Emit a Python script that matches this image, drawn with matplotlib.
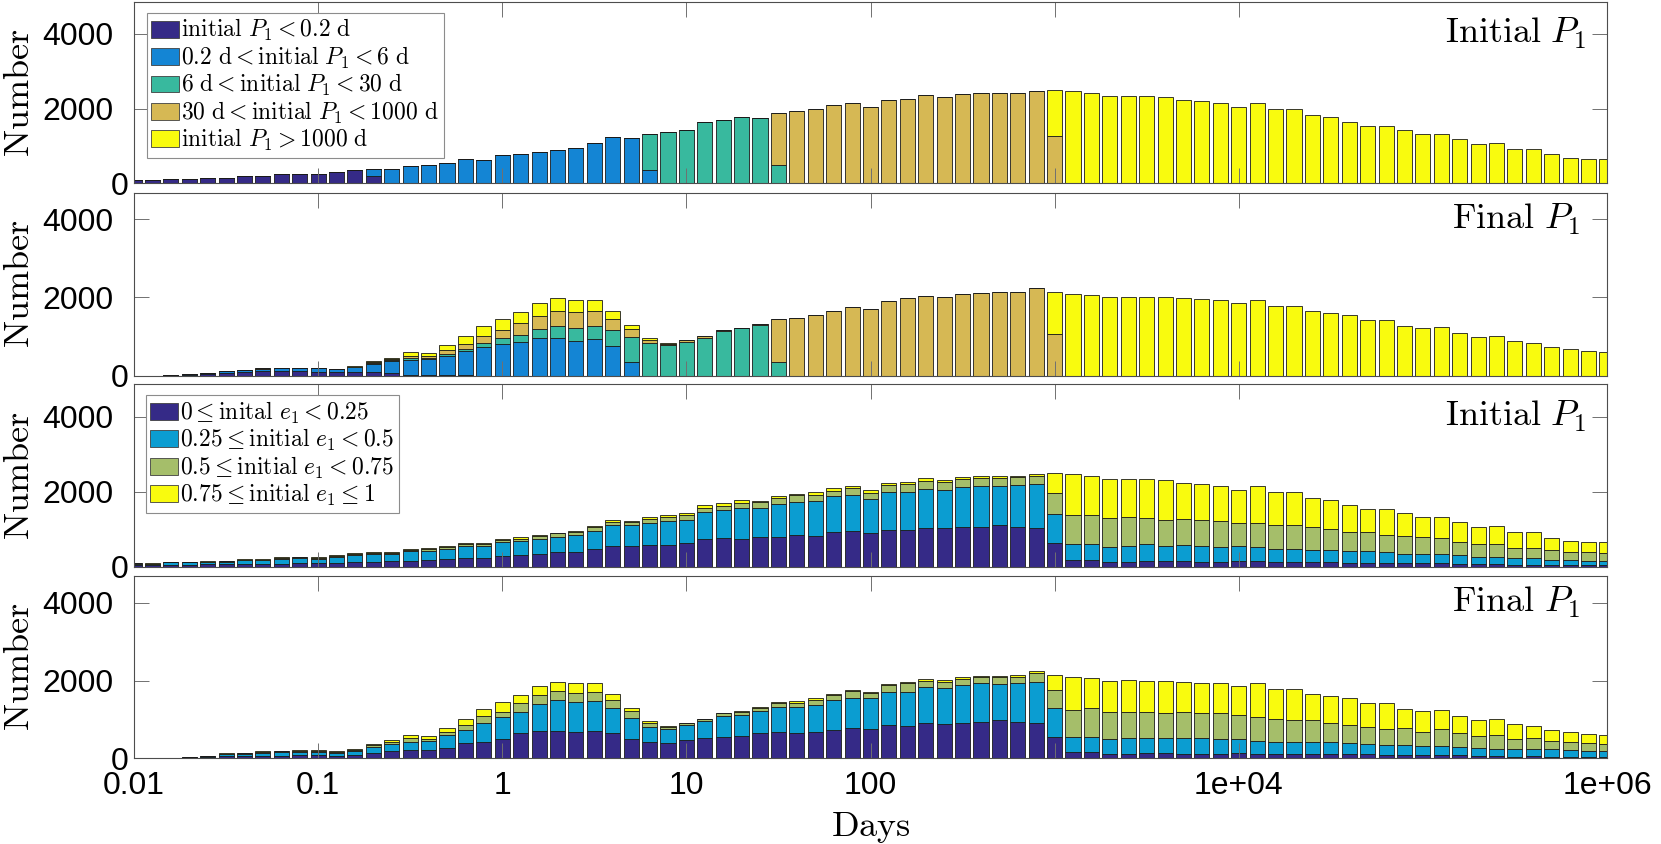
import numpy as np
import matplotlib
matplotlib.use("Agg")
import matplotlib.pyplot as plt
from matplotlib.patches import Patch
from matplotlib.transforms import ScaledTranslation

plt.rcParams["mathtext.fontset"] = "cm"
plt.rcParams["font.family"] = ["Liberation Sans", "DejaVu Sans"]

# bin centres in log10(days), 0.1 dex wide
log_centres = np.round(np.arange(-2.0, 6.01, 0.1), 1)

# ---------------- initial P1, split by initial e1 (panel 3) ----------------
init_e0 = [50, 45, 53, 53, 62, 71, 80, 71, 80, 89,
           89, 107, 124, 133, 142, 160, 175, 200, 235, 235,
           285, 300, 329, 392, 400, 472, 543, 552, 579, 579,
           623, 739, 757, 748, 792, 792, 846, 828, 917, 961,
           908, 988, 970, 1041, 1023, 1050, 1050, 1104, 1068, 1023,
           641, 169, 187, 134, 134, 160, 151, 160, 134, 134,
           142, 151, 134, 134, 125, 125, 107, 107, 98, 89,
           89, 89, 71, 62, 62, 53, 53, 45, 45, 36,
           36]
init_e1 = [30, 35, 62, 62, 62, 62, 89, 98, 124, 133,
           115, 142, 187, 205, 205, 249, 245, 280, 320, 315,
           365, 380, 409, 409, 445, 490, 561, 561, 596, 641,
           623, 721, 757, 819, 783, 880, 881, 926, 961, 961,
           908, 1006, 1032, 1032, 1023, 1077, 1095, 1059, 1121, 1175,
           765, 445, 427, 400, 418, 454, 400, 427, 418, 383,
           409, 383, 329, 338, 320, 320, 312, 312, 285, 258,
           258, 240, 240, 205, 187, 169, 169, 134, 125, 116,
           116]
init_e2 = [5, 3, 9, 9, 9, 18, 18, 15, 27, 27,
           27, 36, 27, 27, 27, 30, 45, 50, 60, 60,
           65, 70, 71, 89, 71, 89, 98, 80, 98, 107,
           134, 107, 107, 125, 142, 151, 178, 169, 151, 178,
           160, 187, 205, 222, 205, 205, 214, 214, 205, 231,
           570, 765, 765, 774, 765, 694, 703, 676, 694, 703,
           614, 641, 659, 632, 614, 561, 516, 498, 463, 463,
           445, 427, 356, 329, 365, 276, 267, 267, 231, 240,
           205]
init_e3 = [5, 2, 5, 5, 7, 9, 9, 8, 15, 12,
           16, 15, 20, 25, 20, 22, 25, 30, 30, 30,
           35, 35, 36, 18, 27, 36, 45, 27, 45, 45,
           45, 71, 80, 80, 36, 53, 45, 62, 62, 53,
           71, 62, 53, 80, 53, 53, 53, 53, 36, 45,
           534, 1095, 1050, 1032, 1024, 1032, 1059, 970, 970, 935,
           890, 970, 863, 881, 783, 774, 721, 632, 703, 614,
           543, 579, 516, 454, 472, 436, 427, 329, 285, 267,
           303]

# panel 1: initial-P1 classes; boundary bins (0.2, 6, 30, 1000 d) are shared
p1_boundary_bins = [-0.7, 0.8, 1.5, 3.0]
p1_boundary_lower = [190, 356, 507, 1264]

# ---------------- final P1, split by initial e1 (panel 4) ----------------
fin_e0 = [0, 0, 5, 17, 34, 51, 51, 69, 69, 77,
          94, 69, 94, 146, 180, 215, 206, 275, 386, 429,
          489, 644, 704, 704, 669, 712, 661, 489, 412, 403,
          472, 532, 558, 583, 644, 669, 644, 686, 729, 789,
          746, 858, 832, 901, 875, 918, 927, 987, 927, 901,
          558, 163, 172, 112, 112, 129, 129, 112, 112, 112,
          129, 112, 112, 112, 112, 103, 103, 103, 86, 86,
          77, 94, 77, 69, 51, 43, 51, 43, 43, 40,
          38]
fin_e1 = [0, 0, 3, 10, 17, 51, 60, 77, 86, 86,
          60, 69, 86, 154, 180, 215, 240, 326, 343, 489,
          566, 558, 695, 798, 772, 772, 626, 541, 403, 343,
          386, 429, 532, 532, 583, 661, 669, 686, 772, 772,
          798, 841, 884, 927, 927, 973, 1013, 927, 1004, 1055,
          746, 377, 386, 377, 420, 386, 386, 403, 403, 386,
          360, 335, 318, 318, 317, 309, 283, 257, 257, 257,
          240, 223, 223, 197, 197, 189, 180, 185, 170, 150,
          145]
fin_e2 = [0, 0, 0, 4, 5, 17, 20, 26, 26, 26,
          34, 26, 34, 43, 69, 103, 51, 86, 120, 172,
          146, 215, 232, 240, 232, 232, 215, 197, 103, 51,
          43, 43, 69, 86, 60, 86, 120, 129, 129, 172,
          146, 189, 215, 170, 170, 150, 140, 170, 165, 230,
          455, 704, 729, 695, 660, 686, 643, 669, 660, 669,
          626, 609, 583, 558, 558, 489, 472, 455, 403, 429,
          369, 429, 343, 300, 352, 257, 283, 222, 210, 200,
          190]
fin_e3 = [0, 0, 0, 3, 4, 9, 15, 17, 17, 17,
          17, 17, 26, 26, 34, 60, 77, 103, 154, 172,
          257, 206, 232, 232, 257, 232, 146, 60, 34, 34,
          17, 17, 17, 26, 26, 43, 51, 43, 26, 26,
          26, 26, 43, 42, 38, 39, 40, 46, 44, 64,
          391, 836, 783, 816, 818, 799, 842, 791, 775, 763,
          747, 874, 763, 788, 669, 704, 686, 618, 686, 506,
          532, 497, 446, 412, 412, 386, 326, 290, 250, 240,
          240]

# ---------------- final P1, split by initial-P1 class (panel 2) ----------------
fin_c0 = [0, 0, 5, 20, 35, 75, 85, 110, 110, 110,
          105, 85, 100, 90, 60, 20, 15, 10, 5, 0] + [0] * 61
fin_c1 = [0, 0, 3, 12, 22, 45, 50, 65, 75, 82,
          85, 80, 120, 220, 320, 390, 400, 500, 615, 730,
          822, 862, 958, 972, 892, 928, 755, 348] + [0] * 53
fin_c2 = [0, 0, 0, 1, 1, 3, 4, 5, 5, 5,
          5, 6, 8, 20, 25, 40, 40, 50, 66, 100,
          135, 172, 240, 288, 315, 340, 408, 650, 841, 775,
          866, 976, 1150, 1210, 1300, 348] + [0] * 45
fin_c3 = [0, 0, 0, 1, 1, 3, 4, 5, 4, 5,
          5, 5, 6, 20, 30, 65, 60, 102, 118, 185,
          220, 308, 333, 400, 417, 391, 289, 187, 68, 35,
          35, 35, 20, 12, 10, 1111, 1484, 1544, 1656, 1759,
          1716, 1914, 1974, 2040, 2010, 2080, 2120, 2130, 2140, 2250,
          1070] + [0] * 30
fin_c4 = [0, 0, 0, 0, 1, 2, 3, 4, 4, 4,
          5, 5, 6, 19, 28, 78, 59, 128, 199, 247,
          281, 281, 332, 314, 306, 289, 196, 102, 43, 21,
          17, 10, 6, 5, 3, 0, 0, 0, 0, 0,
          0, 0, 0, 0, 0, 0, 0, 0, 0, 0,
          1080, 2080, 2070, 2000, 2010, 2000, 2000, 1975, 1950, 1930,
          1862, 1930, 1776, 1776, 1656, 1605, 1544, 1433, 1432, 1278,
          1218, 1243, 1089, 978, 1012, 875, 840, 740, 673, 630,
          613]

p_labels = [r"$\mathrm{initial}\ P_1 < 0.2\ \mathrm{d}$",
            r"$0.2\ \mathrm{d} < \mathrm{initial}\ P_1 < 6\ \mathrm{d}$",
            r"$6\ \mathrm{d} < \mathrm{initial}\ P_1 < 30\ \mathrm{d}$",
            r"$30\ \mathrm{d} < \mathrm{initial}\ P_1 < 1000\ \mathrm{d}$",
            r"$\mathrm{initial}\ P_1 > 1000\ \mathrm{d}$"]
e_labels = [r"$0 \leq \mathrm{inital}\ e_1 < 0.25$",
            r"$0.25 \leq \mathrm{initial}\ e_1 < 0.5$",
            r"$0.5 \leq \mathrm{initial}\ e_1 < 0.75$",
            r"$0.75 \leq \mathrm{initial}\ e_1 \leq 1$"]
p_colours = ["#352a87", "#1485d4", "#38b99e", "#d6b854", "#f9fb0e"]
e_colours = ["#352a87", "#0b9dd1", "#a5be6a", "#f9fb0e"]

xtick_vals = [1e-2, 1e-1, 1, 10, 100, 1e3, 1e4, 1e6]
xtick_text = ["0.01", "0.1", "1", "10", "100", "", "1e+04", "1e+06"]

# ---------------- derived stacks ----------------
n = len(log_centres)
init_e = np.array([init_e0, init_e1, init_e2, init_e3], dtype=float)
fin_e = np.array([fin_e0, fin_e1, fin_e2, fin_e3], dtype=float)
fin_c = np.array([fin_c0, fin_c1, fin_c2, fin_c3, fin_c4], dtype=float)
init_total = init_e.sum(axis=0)

init_c = np.zeros((5, n))
for i, lc in enumerate(log_centres):
    k = sum(lc > b + 1e-6 for b in p1_boundary_bins)
    on_edge = [j for j, b in enumerate(p1_boundary_bins) if abs(lc - b) < 1e-6]
    if on_edge:
        j = on_edge[0]
        init_c[j, i] = p1_boundary_lower[j]
        init_c[j + 1, i] = init_total[i] - p1_boundary_lower[j]
    else:
        init_c[k, i] = init_total[i]

half = 0.041
left = 10 ** (log_centres - half)
width = 10 ** (log_centres + half) - left

fig = plt.figure(figsize=(16.61, 8.44), dpi=100)
ax_l, ax_w = 134 / 1661, 1473 / 1661
rects = [(0.7826, 0.2154), (0.5549, 0.2168), (0.3286, 0.2165), (0.1015, 0.2160)]
ytops = [4860, 4680, 4880, 4690]
axes = [fig.add_axes([ax_l, y0, ax_w, h]) for y0, h in rects]

panels = [(init_c, p_colours), (fin_c, p_colours), (init_e, e_colours), (fin_e, e_colours)]
titles = [r"$\mathrm{Initial}\ P_1$", r"$\mathrm{Final}\ P_1$",
          r"$\mathrm{Initial}\ P_1$", r"$\mathrm{Final}\ P_1$"]
title_x = [0.9864, 0.9817, 0.9864, 0.9817]
zero_shift = ScaledTranslation(15 / 100, 0, fig.dpi_scale_trans)

for ax, (layers, cols), ytop, title, tx in zip(axes, panels, ytops, titles, title_x):
    bottom = np.zeros(n)
    for vals, c in zip(layers, cols):
        ax.bar(left, vals, width=width, bottom=bottom, align="edge",
               color=c, edgecolor="#1a1a1a", linewidth=0.6)
        bottom += vals
    ax.set_xscale("log")
    ax.set_xlim(1e-2, 1e6)
    ax.set_ylim(0, ytop)
    ax.set_yticks([0, 2000, 4000])
    ax.set_xticks(xtick_vals)
    ax.xaxis.set_minor_locator(matplotlib.ticker.NullLocator())
    ax.tick_params(which="both", direction="in", length=10.5, width=0.7,
                   color="#707070", top=True, right=True, labelsize=23, pad=9)
    ax.tick_params(axis="y", pad=15)
    lab0 = ax.get_yticklabels()[0]
    lab0.set_transform(lab0.get_transform() + zero_shift)
    for s in ax.spines.values():
        s.set_color("#4d4d4d")
        s.set_linewidth(0.8)
    ax.set_ylabel(r"$\mathrm{Number}$", fontsize=26, va="center")
    ax.yaxis.set_label_coords(-0.0775, 0.5)
    ax.text(tx, 4000, title, transform=ax.get_yaxis_transform(), fontsize=26,
            ha="right", va="center")
    if ax is axes[-1]:
        ax.set_xticklabels(xtick_text)
    else:
        ax.set_xticklabels([])

leg_kw = dict(loc="upper left", fontsize=17, frameon=True, fancybox=False,
              framealpha=1, borderaxespad=0, borderpad=0.2, handlelength=1.15,
              handleheight=0.72, handletextpad=0.12, labelspacing=0.06,
              edgecolor="#8c8c8c")
h1 = [Patch(facecolor=c, edgecolor="#404040", linewidth=0.6) for c in p_colours]
lg1 = axes[0].legend(h1, p_labels, bbox_to_anchor=(0.0086, 0.9395), **leg_kw)
h3 = [Patch(facecolor=c, edgecolor="#404040", linewidth=0.6) for c in e_colours]
lg3 = axes[2].legend(h3, e_labels, bbox_to_anchor=(0.0079, 0.94), **leg_kw)
for lg in (lg1, lg3):
    lg.get_frame().set_linewidth(0.8)

axes[-1].set_xlabel(r"$\mathrm{Days}$", fontsize=26, va="center")
axes[-1].xaxis.set_label_coords(0.5, -0.38)

fig.savefig("out.png", dpi=100)
